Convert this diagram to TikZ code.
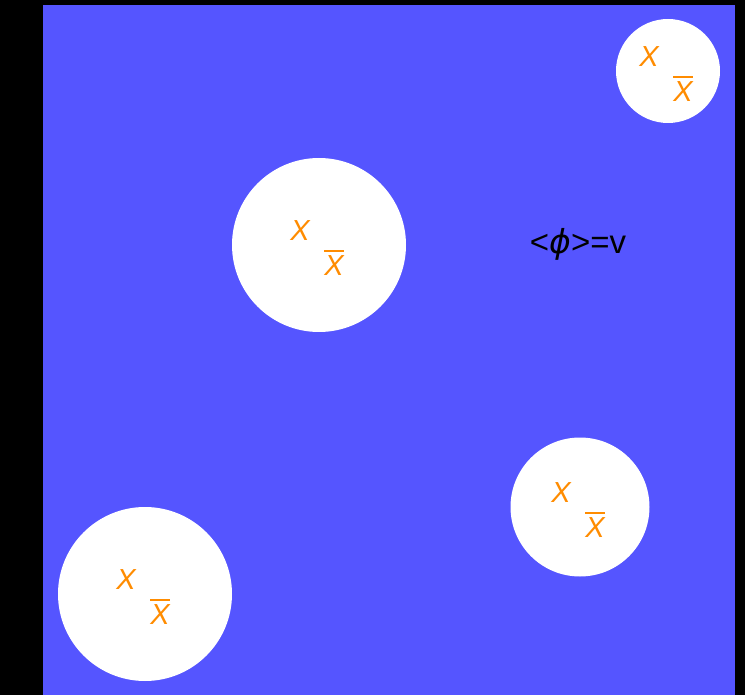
\documentclass[tikz,border=0pt]{standalone}
\usepackage{fontspec}
\setmainfont{Liberation Sans}
\newfontfamily\greekfont{DejaVu Sans}
\definecolor{bgblue}{HTML}{5555FF}
\definecolor{qorange}{HTML}{FF8C00}
\tikzset{
  bubble/.style={circle, fill=white, draw=none, inner sep=0pt},
  quark/.style={text=qorange, font=\fontsize{29}{29}\selectfont\itshape, inner sep=0pt, anchor=center},
  antibar/.style={draw=qorange, line width=1.7pt},
}
\begin{document}
\begin{tikzpicture}[x=1pt,y=-1pt]
\fill[black] (0,0) rectangle (745,695);
\useasboundingbox (0,0) rectangle (745,695);
\fill[bgblue] (43,5) rectangle (735,695);
% bubbles
\node[bubble, minimum size=104pt] (c1) at (668,71) {};
\node[bubble, minimum size=174pt] (c2) at (319,245) {};
\node[bubble, minimum size=139pt] (c3) at (580,507) {};
\node[bubble, minimum size=174pt] (c4) at (145,594) {};
% quarks
\foreach \c in {c1,c2,c3,c4}{
  \node[quark] (\c x) at ([shift={(-19,-14)}]\c.center) {X};
  \node[quark] (\c xb) at ([shift={(15,21)}]\c.center) {X};
  \draw[antibar] ([shift={(0,-5)}]\c xb.north west) -- ([shift={(0,-5)}]\c xb.north east);
}
\node[font=\fontsize{33}{33}\selectfont, inner sep=0pt] (vev) at (578,244) {<{\greekfont\itshape ϕ}>=v};
\end{tikzpicture}
\end{document}
